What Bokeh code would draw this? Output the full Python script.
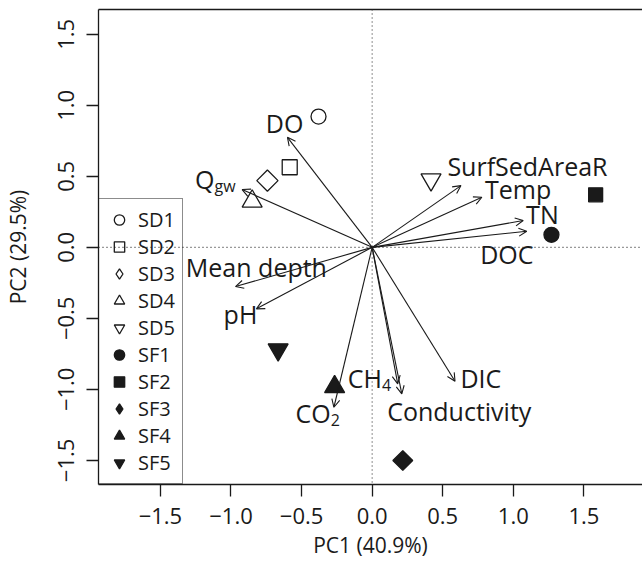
import math
from bokeh.plotting import figure
from bokeh.models import (ColumnDataSource, Arrow, OpenHead, Span, Legend, LegendItem,
                          FixedTicker, LinearAxis, Range1d)
from bokeh.core.properties import value
from bokeh.embed import file_html
from bokeh.resources import INLINE

# ---- data ----
sites = ["SD1", "SD2", "SD3", "SD4", "SD5", "SF1", "SF2", "SF3", "SF4", "SF5"]
site_pc1 = [-0.38, -0.584, -0.742, -0.85, 0.417, 1.27, 1.583, 0.217, -0.266, -0.666]
site_pc2 = [0.921, 0.564, 0.47, 0.324, 0.477, 0.088, 0.37, -1.501, -0.982, -0.72]

variables = ["DO", "Qgw", "SurfSedAreaR", "Temp", "TN", "DOC", "Mean depth", "pH",
             "CO2", "CH4", "Conductivity", "DIC"]
load_pc1 = [-0.60, -0.921, 0.629, 0.777, 1.07, 1.095, -0.968, -0.82, -0.271, 0.181, 0.21, 0.587]
load_pc2 = [0.775, 0.407, 0.435, 0.353, 0.189, 0.113, -0.276, -0.433, -1.126, -0.961, -1.032, -0.943]

label_main = ["DO", "Q", "SurfSedAreaR", "Temp", "TN", "DOC", "Mean depth", "pH",
              "CO", "CH", "Conductivity", "DIC"]
label_sub = ["", "gw", "", "", "", "", "", "", "2", "4", "", ""]
label_pc1 = [-0.62, -1.117, 1.10, 1.034, 1.206, 0.954, -0.82, -0.933, -0.293, 0.07, 0.617, 0.77]
label_pc2 = [0.877, 0.482, 0.576, 0.412, 0.236, -0.046, -0.14, -0.468, -1.168, -0.919, -1.154, -0.919]

x_ticks = [-1.5, -1.0, -0.5, 0.0, 0.5, 1.0, 1.5]
x_tick_labels = ["\u22121.5", "\u22121.0", "\u22120.5", "0.0", "0.5", "1.0", "1.5"]
y_ticks = [-1.5, -1.0, -0.5, 0.0, 0.5, 1.0, 1.5]
y_tick_labels = ["\u22121.5", "\u22121.0", "\u22120.5", "0.0", "0.5", "1.0", "1.5"]
x_title = "PC1 (40.9%)"
y_title = "PC2 (29.5%)"

# ---- styles ----
FONT = "Open Sans"
markers = ["circle", "square", "square", "triangle", "inverted_triangle"] * 2
legend_markers = ["circle", "square", "diamond", "triangle", "inverted_triangle"] * 2
angles = [0, 0, math.pi / 4, 0, 0] * 2
sizes = [15, 15, 15, 20, 20, 15, 14, 14, 20, 20]
filled = [False] * 5 + [True] * 5
INK = "#1a1a1a"

p = figure(width=642, height=567, output_backend="svg", toolbar_location=None,
           x_range=Range1d(-1.9385, 1.915), y_range=Range1d(-1.670, 1.675),
           min_border_left=97, min_border_right=0, min_border_top=9, min_border_bottom=83)
p.outline_line_color = None
p.xgrid.visible = False
p.ygrid.visible = False
p.background_fill_color = "white"
p.border_fill_color = "white"

for ax, ticks, labels, title in ((p.xaxis[0], x_ticks, x_tick_labels, x_title),
                                  (p.yaxis[0], y_ticks, y_tick_labels, y_title)):
    ax.ticker = FixedTicker(ticks=ticks)
    ax.major_label_overrides = {t: l for t, l in zip(ticks, labels)}
    ax.major_tick_out = 12
    ax.major_tick_in = 0
    ax.minor_tick_out = 0
    ax.minor_tick_in = 0
    ax.axis_line_width = 1.3
    ax.major_tick_line_width = 1.3
    ax.axis_line_color = INK
    ax.major_tick_line_color = INK
    ax.major_label_text_font = FONT
    ax.major_label_text_font_size = "22px"
    ax.major_label_text_color = INK
    ax.axis_label = title
    ax.axis_label_text_font = FONT
    ax.axis_label_text_font_size = "21px"
    ax.axis_label_text_font_style = "normal"
    ax.axis_label_text_color = INK

p.xaxis.major_label_standoff = 11
p.xaxis.axis_label_standoff = 4
p.yaxis.major_label_orientation = "vertical"
p.yaxis.major_label_standoff = 12
p.yaxis.axis_label_standoff = 24

top = LinearAxis(ticker=FixedTicker(ticks=[]), major_label_text_font_size="0px",
                 major_tick_out=0, minor_tick_out=0, axis_line_width=1.3,
                 axis_line_color=INK)
p.add_layout(top, "above")

# reference lines
p.add_layout(Span(location=0, dimension="height", line_color="#333333",
                  line_width=1.1, line_dash="1 3"))
p.add_layout(Span(location=0, dimension="width", line_color="#333333",
                  line_width=1.1, line_dash="1 3"))

# loading arrows
arr_src = ColumnDataSource(dict(x0=[0] * len(variables), y0=[0] * len(variables),
                                x1=load_pc1, y1=load_pc2))
p.add_layout(Arrow(source=arr_src, x_start="x0", y_start="y0", x_end="x1", y_end="y1",
                   line_color=INK, line_width=1.1,
                   end=OpenHead(size=8, line_width=1.1, line_color=INK)))

# labels
plain = [i for i, s in enumerate(label_sub) if s == ""]
subbed = [i for i, s in enumerate(label_sub) if s != ""]
src_plain = ColumnDataSource(dict(x=[label_pc1[i] for i in plain], y=[label_pc2[i] for i in plain],
                                  t=[label_main[i] for i in plain]))
p.text(x="x", y="y", text="t", source=src_plain, text_font=value(FONT), text_font_size="25px",
       text_align="center", text_baseline="middle", text_color=INK)
src_sub = ColumnDataSource(dict(x=[label_pc1[i] for i in subbed], y=[label_pc2[i] for i in subbed],
                                t=[label_main[i] for i in subbed], s=[label_sub[i] for i in subbed]))
p.text(x="x", y="y", text="t", source=src_sub, text_font=value(FONT), text_font_size="25px",
       text_align="right", text_baseline="middle", text_color=INK)
p.text(x="x", y="y", text="s", source=src_sub, text_font=value(FONT), text_font_size="16px",
       text_align="left", text_baseline="middle", text_color=INK, y_offset=7)

# site points
items = []
for i, name in enumerate(sites):
    src = ColumnDataSource(dict(x=[site_pc1[i]], y=[site_pc2[i]]))
    r = p.scatter(x="x", y="y", source=src, marker=markers[i], size=sizes[i], angle=angles[i],
                  fill_color=INK if filled[i] else None, line_color=INK,
                  line_width=1.3)
    if legend_markers[i] != markers[i]:
        # legend-only swatch (the legend does not rotate markers); hidden in the plot
        r = p.scatter(x="x", y="y", source=src, marker=legend_markers[i], size=sizes[i],
                      fill_color=INK if filled[i] else None, line_color=INK,
                      line_width=1.3, visible=False)
    items.append(LegendItem(label=name, renderers=[r]))

legend = Legend(items=items, location=(0, 0), margin=0, padding=7, spacing=0,
                glyph_width=26, glyph_height=27, label_height=27, label_width=35,
                label_standoff=6, label_text_font=FONT, label_text_font_size="20px",
                label_text_baseline="middle", label_text_color=INK,
                border_line_color=INK, border_line_width=1.3,
                background_fill_alpha=0, inactive_fill_alpha=0)
p.add_layout(legend)

open("out.html", "w").write(file_html(p, INLINE))
